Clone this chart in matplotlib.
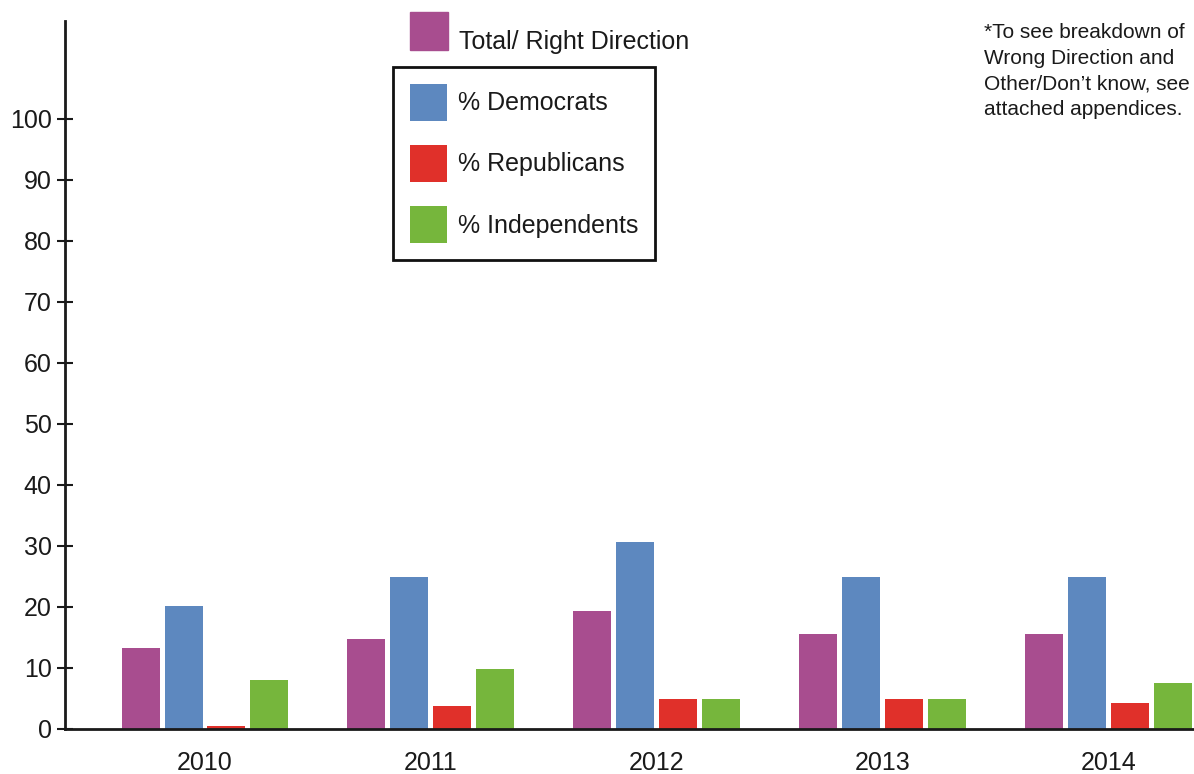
import matplotlib.pyplot as plt
from matplotlib.patches import Rectangle
import numpy as np

plt.rcParams['font.family'] = ['Liberation Sans', 'DejaVu Sans']

# Dane: odsetek "Right Direction" wg roku
years = ['2010', '2011', '2012', '2013', '2014']
total = [13.2, 14.7, 19.4, 15.5, 15.5]
democrats = [20.1, 24.9, 30.7, 24.9, 24.9]
republicans = [0.5, 3.8, 4.9, 4.9, 4.3]
independents = [8.1, 9.8, 4.9, 4.9, 7.5]

series = [
    ('Total/ Right Direction', total, '#A84D8F'),
    ('% Democrats', democrats, '#5D88BF'),
    ('% Republicans', republicans, '#E0302A'),
    ('% Independents', independents, '#76B63C'),
]

W, H = 1194, 774
fig = plt.figure(figsize=(W / 100, H / 100), dpi=100)
ax = fig.add_axes([65 / W, 1 - 729 / H, 1 - 65 / W, (729 - 21) / H])

x = np.arange(len(years))
step = 0.19
width = 0.168
bars = []
for i, (name, vals, color) in enumerate(series):
    b = ax.bar(x + (i - 1.5) * step, vals, width, color=color, label=name)
    bars.append(b)

ax.set_xlim(-0.62, 4.38)
ax.set_ylim(0, 116)
ax.set_yticks(range(0, 101, 10))
ax.set_xticks(x)
ax.set_xticklabels(years)

for s in ['top', 'right']:
    ax.spines[s].set_visible(False)
for s in ['left', 'bottom']:
    ax.spines[s].set_linewidth(2)
    ax.spines[s].set_color('#1a1a1a')

ax.tick_params(axis='y', direction='inout', length=11, width=1.5,
               labelsize=18, pad=4, colors='#1a1a1a')
ax.tick_params(axis='x', length=0, labelsize=18, pad=16, colors='#1a1a1a')

# "Total" - kwadrat i opis poza ramką legendy
fig.patches.append(Rectangle((410 / W, 1 - 50 / H), 38 / W, 38 / H,
                             transform=fig.transFigure, color=series[0][2]))
fig.text(459 / W, 1 - 49 / H, series[0][0], fontsize=18, color='#1a1a1a',
         va='baseline', ha='left')

# Partie w ramce
leg = fig.legend(handles=bars[1:], labels=[s[0] for s in series[1:]],
                 loc='upper left', bbox_to_anchor=(393 / W, 1 - 67 / H),
                 frameon=True, fancybox=False, edgecolor='#111111',
                 framealpha=1, fontsize=18, handlelength=1.5, handleheight=1.93,
                 handletextpad=0.45, borderpad=0.66, labelspacing=0.95,
                 borderaxespad=0)
leg.get_frame().set_linewidth(2)
for t in leg.get_texts():
    t.set_color('#1a1a1a')

fig.text(984 / W, 1 - 23 / H,
         '*To see breakdown of\nWrong Direction and\nOther/Don\u2019t know, see\nattached appendices.',
         fontsize=15, color='#1a1a1a', va='top', ha='left', linespacing=1.45)

fig.savefig('out.png', dpi=100)
